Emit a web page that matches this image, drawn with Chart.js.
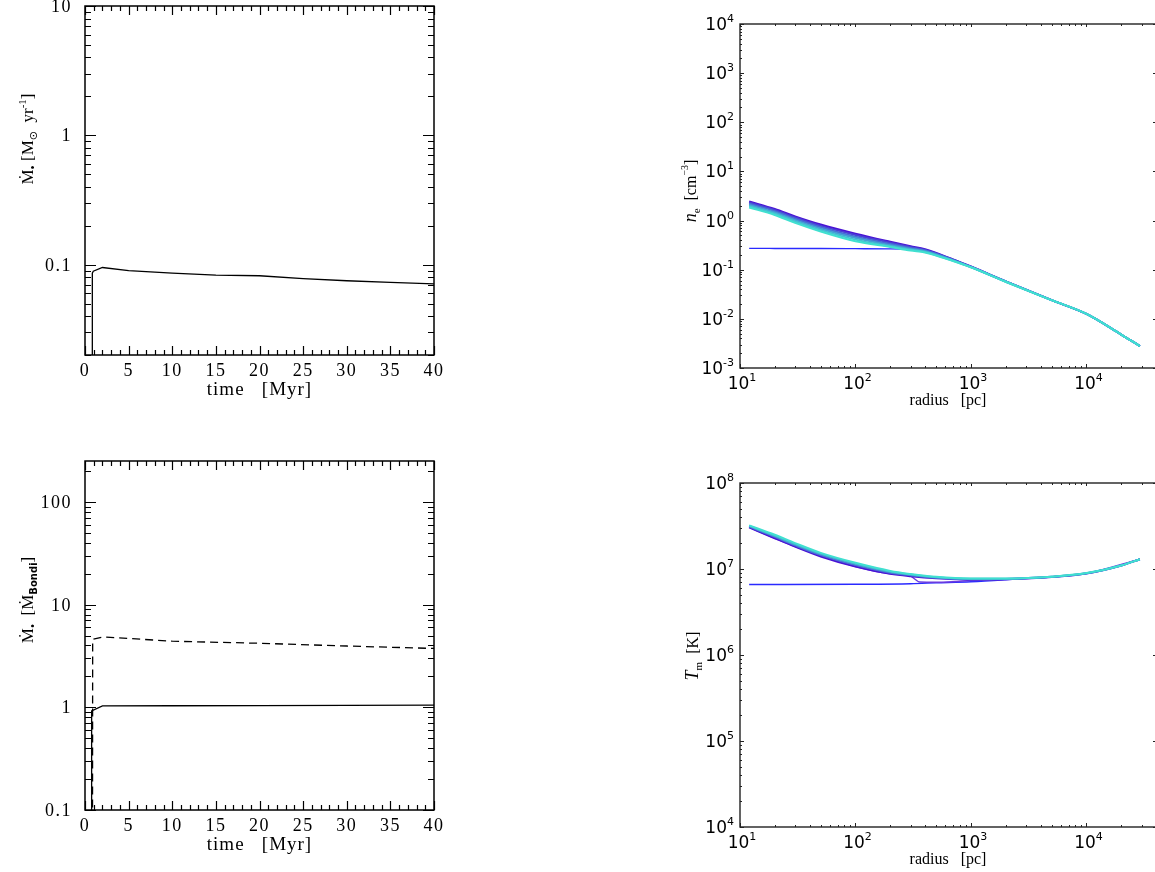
<!DOCTYPE html>
<html>
<head>
<meta charset="utf-8">
<script src="https://cdn.jsdelivr.net/npm/chart.js@4.4.0/dist/chart.umd.min.js"></script>
<style>
  body { margin: 0; background: #fff; width: 1155px; height: 872px; position: relative; overflow: hidden; }
  canvas { position: absolute; }
</style>
</head>
<body>
<canvas id="rateChart" width="578" height="436" style="left:0;top:0"></canvas>
<canvas id="bondiChart" width="578" height="436" style="left:0;top:436px"></canvas>
<canvas id="densityChart" width="580" height="436" style="left:578px;top:0"></canvas>
<canvas id="tempChart" width="580" height="436" style="left:578px;top:436px"></canvas>
<script>
// --- données ---

// panneau haut gauche : taux d'accrétion [Msun/yr]
const rateTime = [0.82, 0.84, 0.95, 2, 5, 10, 15, 20, 25, 30, 35, 40];
const rateValues = [0.001, 0.086, 0.089, 0.095, 0.090, 0.086, 0.083, 0.082, 0.078, 0.075, 0.073, 0.071];

// panneau bas gauche : taux en unités de Bondi
const bondiSolidTime = [0.74, 0.76, 2, 10, 20, 30, 40];
const bondiSolid = [0.001, 0.92, 1.03, 1.035, 1.04, 1.045, 1.05];
const bondiDashedTime = [0.84, 0.88, 2.1, 10, 20, 30, 40];
const bondiDashed = [0.001, 4.6, 4.85, 4.4, 4.2, 3.95, 3.74];

const timeTicks = [0, 5, 10, 15, 20, 25, 30, 35, 40];
const rateTicks = [0.1, 1, 10];
const rateTickLabels = ['0.1', '1', '10'];
const bondiTicks = [0.1, 1, 10, 100];
const bondiTickLabels = ['0.1', '1', '10', '100'];

// panneaux de droite : profils radiaux
const radius = [12, 20, 30, 50, 100, 200, 300, 400, 700, 1000, 2000, 5000, 10000, 20000, 29000];
const densityProfiles = [
  [2.45, 1.72, 1.22, 0.83, 0.54, 0.37, 0.300, 0.260, 0.162, 0.116, 0.058, 0.024, 0.0126, 0.0048, 0.0028],
  [2.33, 1.64, 1.16, 0.78, 0.51, 0.355, 0.290, 0.253, 0.160, 0.115, 0.058, 0.024, 0.0126, 0.0048, 0.0028],
  [2.20, 1.55, 1.09, 0.73, 0.47, 0.335, 0.278, 0.245, 0.158, 0.114, 0.058, 0.024, 0.0126, 0.0048, 0.0028],
  [2.08, 1.46, 1.02, 0.68, 0.44, 0.315, 0.265, 0.238, 0.155, 0.113, 0.057, 0.024, 0.0126, 0.0048, 0.0028],
  [1.96, 1.38, 0.96, 0.64, 0.41, 0.300, 0.255, 0.230, 0.152, 0.112, 0.057, 0.024, 0.0126, 0.0048, 0.0028],
  [1.85, 1.30, 0.90, 0.60, 0.38, 0.290, 0.245, 0.225, 0.150, 0.112, 0.057, 0.024, 0.0126, 0.0048, 0.0028]
];
const densityInitial = [0.272, 0.271, 0.270, 0.270, 0.268, 0.265, 0.260, 0.250, 0.158, 0.113, 0.057, 0.024, 0.0125, 0.0048, 0.0028];

const tempRadius = [12, 20, 30, 50, 100, 200, 300, 500, 1000, 2000, 5000, 10000, 20000, 29000];
const tempProfiles = [
  [3.05e7, 2.28e7, 1.82e7, 1.40e7, 1.07e7, 8.8e6, 8.25e6, 7.8e6, 7.55e6, 7.62e6, 8.08e6, 8.88e6, 1.1e7, 1.3e7],
  [3.11e7, 2.36e7, 1.88e7, 1.45e7, 1.11e7, 9.05e6, 8.45e6, 7.9e6, 7.62e6, 7.66e6, 8.1e6, 8.9e6, 1.1e7, 1.3e7],
  [3.17e7, 2.43e7, 1.94e7, 1.50e7, 1.15e7, 9.3e6, 8.62e6, 8.02e6, 7.7e6, 7.72e6, 8.13e6, 8.93e6, 1.1e7, 1.3e7],
  [3.22e7, 2.50e7, 2.00e7, 1.54e7, 1.18e7, 9.5e6, 8.75e6, 8.1e6, 7.75e6, 7.76e6, 8.15e6, 8.96e6, 1.1e7, 1.3e7]
];
const tempLoopRadius = [12, 30, 100, 200, 300, 360, 500, 700, 1000, 2000, 5000, 10000, 29000];
const tempLoop = [3.05e7, 1.82e7, 1.07e7, 8.8e6, 8.25e6, 7.05e6, 7.0e6, 7.1e6, 7.35e6, 7.6e6, 8.08e6, 8.88e6, 1.3e7];
const tempInitialRadius = [12, 100, 300, 500, 1000, 2000, 3000, 5000, 10000, 20000, 29000];
const tempInitial = [6.6e6, 6.65e6, 6.75e6, 6.9e6, 7.1e6, 7.5e6, 7.8e6, 8.1e6, 8.9e6, 1.1e7, 1.3e7];

const radiusExponents = [1, 2, 3, 4];
const densityExponents = [-3, -2, -1, 0, 1, 2, 3, 4];
const tempExponents = [4, 5, 6, 7, 8];

const bandColors = ['#4a12d4', '#4a3ed6', '#476ed6', '#449ed5', '#42c4d2', '#40e0d0'];
const tempColors = ['#4a12d4', '#4a6ed6', '#44b0d4', '#40e0d0'];

function pts(xs, ys) { return xs.map((x, i) => ({ x: x, y: ys[i] })); }

// texte enrichi (indices / exposants) dessiné segment par segment
function richWidth(ctx, segs) {
  let w = 0;
  segs.forEach(s => { ctx.font = s.font; ctx.letterSpacing = s.ls || '0px'; w += ctx.measureText(s.t).width; });
  return w;
}
function drawRich(ctx, segs, x, y, align, rotate) {
  ctx.save();
  ctx.translate(x, y);
  if (rotate) ctx.rotate(-Math.PI / 2);
  const w = richWidth(ctx, segs);
  let cx = align === 'center' ? -w / 2 : (align === 'right' ? -w : 0);
  ctx.fillStyle = '#000';
  ctx.textBaseline = 'alphabetic';
  ctx.textAlign = 'left';
  segs.forEach(s => {
    ctx.font = s.font;
    ctx.letterSpacing = s.ls || '0px';
    ctx.fillText(s.t, cx, s.dy || 0);
    cx += ctx.measureText(s.t).width;
  });
  ctx.restore();
}

function logMinorValues(min, max) {
  const out = [];
  for (let d = Math.floor(Math.log10(min)); d <= Math.ceil(Math.log10(max)); d++) {
    for (let m = 1; m <= 9; m++) {
      const v = m * Math.pow(10, d);
      if (v >= min * 0.999 && v <= max * 1.001) out.push({ v: v, major: m === 1 });
    }
  }
  return out;
}

// cadre + graduations intérieures + étiquettes
const frameAxes = {
  id: 'frameAxes',
  afterDatasetsDraw(chart, args, o) {
    const ctx = chart.ctx, a = chart.chartArea;
    const xs = chart.scales.x, ys = chart.scales.y;
    ctx.save();
    ctx.strokeStyle = o.color;
    ctx.lineWidth = o.frameWidth;
    ctx.strokeRect(a.left, a.top, a.right - a.left, a.bottom - a.top);
    ctx.lineWidth = o.tickWidth;
    ctx.beginPath();
    // axe x
    let xt;
    if (o.xLog) xt = logMinorValues(xs.min, xs.max);
    else {
      xt = [];
      for (let t = xs.min; t <= xs.max; t++) xt.push({ v: t, major: t % 5 === 0 });
    }
    xt.forEach(t => {
      const px = Math.round(xs.getPixelForValue(t.v)) + 0.5;
      const lb = t.major ? o.majorLen.bottom : o.minorLen.bottom;
      const lt = t.major ? o.majorLen.top : o.minorLen.top;
      ctx.moveTo(px, a.bottom); ctx.lineTo(px, a.bottom - lb);
      if (lt > 0) { ctx.moveTo(px, a.top); ctx.lineTo(px, a.top + lt); }
    });
    // axe y
    logMinorValues(ys.min, ys.max).forEach(t => {
      const py = Math.round(ys.getPixelForValue(t.v)) + 0.5;
      const ll = t.major ? o.majorLen.left : o.minorLen.left;
      const lr = t.major ? o.majorLen.right : o.minorLen.right;
      ctx.moveTo(a.left, py); ctx.lineTo(a.left + ll, py);
      if (lr > 0) { ctx.moveTo(a.right, py); ctx.lineTo(a.right - lr, py); }
    });
    ctx.stroke();
    ctx.restore();

    ctx.save();
    ctx.fillStyle = '#000';
    if (o.xLog) {
      o.xLabels.forEach(e => {
        const px = xs.getPixelForValue(Math.pow(10, e));
        drawRich(ctx, [{ t: '10', font: o.tickFont }, { t: String(e), font: o.supFont, dy: -8 }], px + 2, a.bottom + o.xLabelGap, 'center');
      });
      o.yLabels.forEach(e => {
        const py = ys.getPixelForValue(Math.pow(10, e));
        drawRich(ctx, [{ t: '10', font: o.tickFont }, { t: String(e), font: o.supFont, dy: -8 }], a.left - 6, py + 6, 'right');
      });
    } else {
      o.xLabels.forEach(t => drawRich(ctx, [{ t: String(t), font: o.tickFont, ls: o.tickSpacing }], xs.getPixelForValue(t), a.bottom + o.xLabelGap, 'center'));
      o.yLabels.forEach((t, i) => drawRich(ctx, [{ t: o.yLabelText[i], font: o.tickFont, ls: o.tickSpacing }], a.left - 13, ys.getPixelForValue(t) + 6, 'right'));
    }
    ctx.restore();
    drawRich(ctx, o.xTitle, (a.left + a.right) / 2 + o.xTitleShift, a.bottom + o.xTitleGap, 'center');
    drawRich(ctx, o.yTitle, o.yTitlePos[0], o.yTitlePos[1], 'center', true);
  }
};
Chart.register(frameAxes);

const serif = '"Liberation Serif", "DejaVu Serif", serif';
const smFrame = {
  color: '#000', frameWidth: 1.5, tickWidth: 1.2, xLog: false,
  majorLen: { bottom: 9, top: 9, left: 11, right: 11 },
  minorLen: { bottom: 5, top: 5, left: 6, right: 6 },
  tickFont: '18px ' + serif, tickSpacing: '1.5px', xLabelGap: 21, xTitleGap: 40, xTitleShift: 0,
  xLabels: timeTicks
};
const mplFrame = {
  color: '#222', frameWidth: 1.4, tickWidth: 1, xLog: true,
  majorLen: { bottom: 4, top: 3, left: 4, right: 3 },
  minorLen: { bottom: 2, top: 2, left: 2, right: 0 },
  tickFont: '17px "DejaVu Sans", sans-serif', supFont: '11px "DejaVu Sans", sans-serif',
  xLabelGap: 21, xTitleGap: 37, xTitleShift: 0,
  xLabels: radiusExponents
};

function baseOptions(pad, xScale, yScale, frame) {
  return {
    responsive: false,
    animation: false,
    layout: { padding: pad },
    scales: { x: Object.assign({ display: false }, xScale), y: Object.assign({ display: false }, yScale) },
    elements: { point: { radius: 0 } },
    plugins: { legend: { display: false }, tooltip: { enabled: false }, frameAxes: frame }
  };
}

const mdotSegs = [
  { t: 'Ṁ', font: '17px ' + serif },
  { t: '•', font: '12px ' + serif, dy: 4 },
  { t: ' [M', font: '17px ' + serif },
  { t: '⊙', font: '11px "DejaVu Sans", sans-serif', dy: 4 },
  { t: '  yr', font: '17px ' + serif },
  { t: '-1', font: '11px ' + serif, dy: -7 },
  { t: ']', font: '17px ' + serif }
];
const timeSegs = [{ t: 'time   [Myr]', font: '19px ' + serif, ls: '1px' }];

// Graphique du taux d'accrétion
new Chart(document.getElementById('rateChart'), {
  type: 'line',
  data: { datasets: [{ data: pts(rateTime, rateValues), borderColor: '#000', borderWidth: 1.3, tension: 0 }] },
  options: baseOptions({ left: 85, top: 6, right: 144, bottom: 81 },
    { type: 'linear', min: 0, max: 40 }, { type: 'logarithmic', min: 0.02, max: 10 },
    Object.assign({}, smFrame, {
      yLabels: rateTicks, yLabelText: rateTickLabels, xTitle: timeSegs,
      yTitle: mdotSegs, yTitlePos: [33, 139]
    }))
});

// Graphique du taux en unités de Bondi
new Chart(document.getElementById('bondiChart'), {
  type: 'line',
  data: { datasets: [
    { data: pts(bondiSolidTime, bondiSolid), borderColor: '#000', borderWidth: 1.3, tension: 0 },
    { data: pts(bondiDashedTime, bondiDashed), borderColor: '#000', borderWidth: 1.3, borderDash: [8, 5], tension: 0 }
  ] },
  options: baseOptions({ left: 85, top: 25, right: 144, bottom: 62 },
    { type: 'linear', min: 0, max: 40 }, { type: 'logarithmic', min: 0.1, max: 250 },
    Object.assign({}, smFrame, {
      yLabels: bondiTicks, yLabelText: bondiTickLabels, xTitle: timeSegs,
      yTitle: [
        { t: 'Ṁ', font: '17px ' + serif },
        { t: '•', font: '12px ' + serif, dy: 4 },
        { t: '  [Ṁ', font: '17px ' + serif },
        { t: 'Bondi', font: 'bold 10px "DejaVu Sans", sans-serif', dy: 4 },
        { t: ']', font: '17px ' + serif }
      ],
      yTitlePos: [33, 164]
    }))
});

// Graphique des profils de densité
const densitySets = densityProfiles.map((p, i) => ({
  data: pts(radius, p), borderColor: bandColors[i], borderWidth: 2,
  cubicInterpolationMode: 'monotone', order: densityProfiles.length - i
}));
densitySets.push({ data: pts(radius, densityInitial), borderColor: '#2a2aff', borderWidth: 1.4, cubicInterpolationMode: 'monotone', order: 20 });
new Chart(document.getElementById('densityChart'), {
  type: 'line',
  data: { datasets: densitySets },
  options: baseOptions({ left: 162, top: 24, right: 2, bottom: 68 },
    { type: 'logarithmic', min: 10, max: 40000 }, { type: 'logarithmic', min: 1e-3, max: 1e4 },
    Object.assign({}, mplFrame, {
      yLabels: densityExponents,
      xTitle: [{ t: 'radius   [pc]', font: '16px ' + serif }], xTitleShift: 0,
      yTitle: [
        { t: 'n', font: 'italic 18px ' + serif },
        { t: 'e', font: '11px ' + serif, dy: 4 },
        { t: '  [cm', font: '16px ' + serif },
        { t: '−3', font: '10px ' + serif, dy: -8 },
        { t: ']', font: '16px ' + serif }
      ],
      yTitlePos: [118, 191]
    }))
});

// Graphique des profils de température (cyan au-dessus)
const tempSets = tempProfiles.map((p, i) => ({
  data: pts(tempRadius, p), borderColor: tempColors[i], borderWidth: 2,
  cubicInterpolationMode: 'monotone', order: tempProfiles.length - i
}));
tempSets.push({ data: pts(tempLoopRadius, tempLoop), borderColor: '#6a3ae0', borderWidth: 1.4, cubicInterpolationMode: 'monotone', order: 10 });
tempSets.push({ data: pts(tempInitialRadius, tempInitial), borderColor: '#2a2aff', borderWidth: 1.4, cubicInterpolationMode: 'monotone', order: 20 });
new Chart(document.getElementById('tempChart'), {
  type: 'line',
  data: { datasets: tempSets },
  options: baseOptions({ left: 162, top: 47, right: 2, bottom: 45 },
    { type: 'logarithmic', min: 10, max: 40000 }, { type: 'logarithmic', min: 1e4, max: 1e8 },
    Object.assign({}, mplFrame, {
      yLabels: tempExponents,
      xTitle: [{ t: 'radius   [pc]', font: '16px ' + serif }], xTitleShift: 0,
      yTitle: [
        { t: 'T', font: 'italic 18px ' + serif },
        { t: 'm', font: '11px ' + serif, dy: 4 },
        { t: '  [K]', font: '16px ' + serif }
      ],
      yTitlePos: [120, 220]
    }))
});
</script>
</body>
</html>
